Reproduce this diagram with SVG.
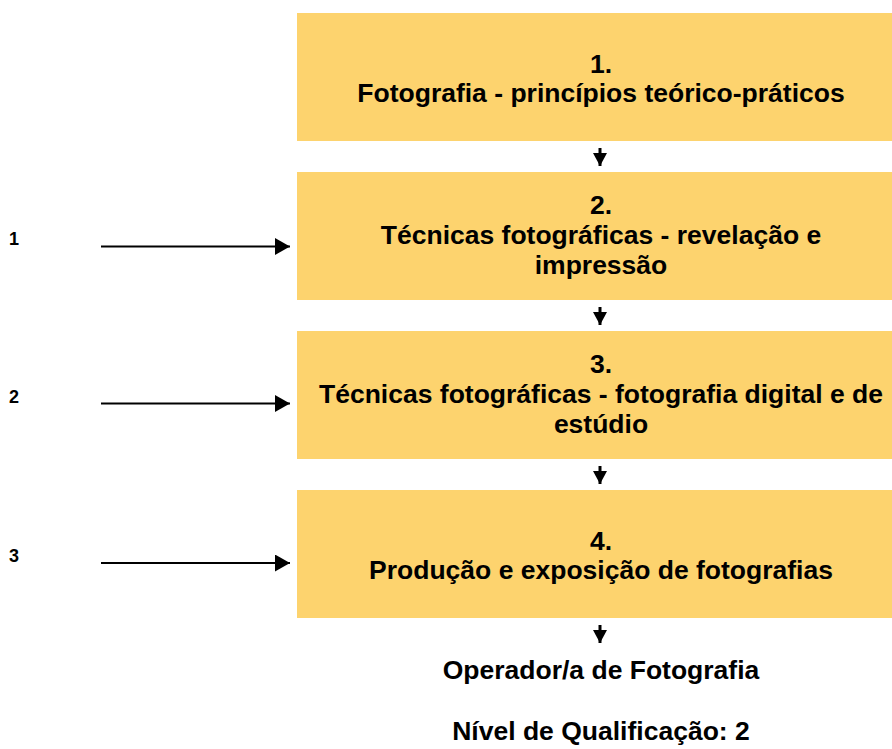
<svg xmlns="http://www.w3.org/2000/svg" width="892" height="749" viewBox="0 0 892 749">
<style>
.box{fill:#FDD36E;}
.t{font-family:"Liberation Sans",Arial,sans-serif;font-weight:bold;font-size:26.5px;fill:#000;text-anchor:middle;}
.lbl{font-family:"Liberation Sans",Arial,sans-serif;font-weight:bold;font-size:18px;fill:#000;}
.ln{stroke:#000;stroke-width:2;fill:none;}
.sln{stroke:#000;stroke-width:3;fill:none;}
</style>
<defs>
<marker id="big" markerUnits="userSpaceOnUse" markerWidth="16" markerHeight="18" refX="15" refY="8.5" orient="auto">
<path d="M0,0 L15,8.5 L0,17 Z" fill="#000"/>
</marker>
<marker id="small" markerUnits="userSpaceOnUse" markerWidth="16" markerHeight="16" refX="13" refY="7" orient="auto">
<path d="M0,0 L13,7 L0,14 Z" fill="#000"/>
</marker>
</defs>
<rect width="892" height="749" fill="#fff"/>
<g id="node1">
<rect class="box" x="297" y="13" width="610" height="128"/>
<text class="t" x="601" y="73">1.</text>
<text class="t" x="601" y="102">Fotografia - princípios teórico-práticos</text>
</g>
<g id="node2">
<rect class="box" x="297" y="172" width="610" height="128"/>
<text class="t" x="601" y="214">2.</text>
<text class="t" x="601" y="244">Técnicas fotográficas - revelação e</text>
<text class="t" x="601" y="274">impressão</text>
</g>
<g id="node3">
<rect class="box" x="297" y="331" width="610" height="128"/>
<text class="t" x="601" y="373">3.</text>
<text class="t" x="601" y="403">Técnicas fotográficas - fotografia digital e de</text>
<text class="t" x="601" y="433">estúdio</text>
</g>
<g id="node4">
<rect class="box" x="297" y="490" width="610" height="128"/>
<text class="t" x="601" y="550">4.</text>
<text class="t" x="601" y="579">Produção e exposição de fotografias</text>
</g>
<g id="result">
<text class="t" x="601" y="679">Operador/a de Fotografia</text>
<text class="t" x="601" y="740">Nível de Qualificação: 2</text>
</g>
<g id="labels">
<text class="lbl" x="9" y="245">1</text>
<text class="lbl" x="9" y="403">2</text>
<text class="lbl" x="9" y="562">3</text>
</g>
<g id="connectors">
<line class="sln" x1="600" y1="148" x2="600" y2="166" marker-end="url(#small)"/>
<line class="sln" x1="600" y1="307" x2="600" y2="325" marker-end="url(#small)"/>
<line class="sln" x1="600" y1="466" x2="600" y2="484" marker-end="url(#small)"/>
<line class="sln" x1="600" y1="625" x2="600" y2="643" marker-end="url(#small)"/>
<line class="ln" x1="101" y1="246.5" x2="290" y2="246.5" marker-end="url(#big)"/>
<line class="ln" x1="101" y1="403.5" x2="290" y2="403.5" marker-end="url(#big)"/>
<line class="ln" x1="101" y1="563" x2="290" y2="563" marker-end="url(#big)"/>
</g>
</svg>
